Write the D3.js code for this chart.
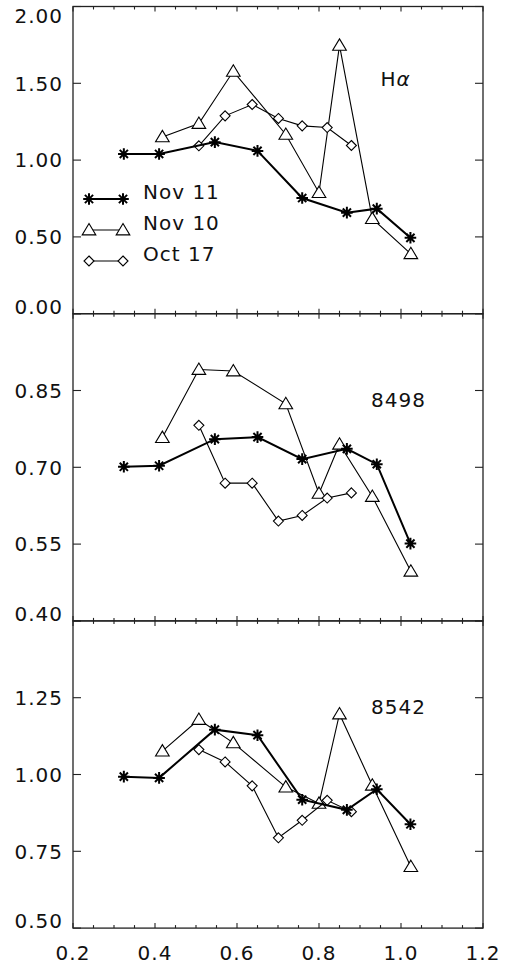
<!DOCTYPE html>
<html>
<head>
<meta charset="utf-8">
<script src="https://cdn.jsdelivr.net/npm/d3@7"></script>
<style>
  body { margin: 0; background: #fff; }
  text { font-family: "DejaVu Sans", sans-serif; font-size: 20px; letter-spacing: 1px; fill: #111; }
</style>
</head>
<body>
<svg id="chart" width="509" height="965"></svg>
<script>
// x values (shared by all three lines / panels)
var xNov11 = [0.324, 0.41, 0.546, 0.65, 0.759, 0.868, 0.941, 1.023];
var xNov10 = [0.418, 0.507, 0.591, 0.719, 0.80, 0.85, 0.93, 1.024];
var xOct17 = [0.507, 0.571, 0.637, 0.701, 0.759, 0.82, 0.879];

// H alpha
var haNov11 = [1.04, 1.04, 1.117, 1.06, 0.753, 0.658, 0.684, 0.494];
var haNov10 = [1.151, 1.238, 1.578, 1.167, 0.788, 1.747, 0.619, 0.39];
var haOct17 = [1.093, 1.288, 1.362, 1.271, 1.223, 1.212, 1.095];

// 8498
var c1Nov11 = [0.701, 0.703, 0.755, 0.759, 0.716, 0.736, 0.706, 0.551];
var c1Nov10 = [0.758, 0.891, 0.888, 0.824, 0.649, 0.745, 0.643, 0.497];
var c1Oct17 = [0.782, 0.669, 0.669, 0.595, 0.606, 0.640, 0.650];

// 8542
var c2Nov11 = [0.993, 0.989, 1.146, 1.128, 0.918, 0.885, 0.952, 0.838];
var c2Nov10 = [1.076, 1.179, 1.103, 0.959, 0.906, 1.197, 0.965, 0.70];
var c2Oct17 = [1.081, 1.041, 0.963, 0.794, 0.851, 0.916, 0.879];

var seriesNames = ["Nov 11", "Nov 10", "Oct 17"];
var xTicks = [0.2, 0.4, 0.6, 0.8, 1.0, 1.2];

var panels = [
  {label: "H", greek: "α", domain: [0, 2], ticks: [0, 0.5, 1, 1.5, 2], labelTop: true,
   data: [haNov11, haNov10, haOct17], legend: true},
  {label: "8498", domain: [0.4, 1.0], ticks: [0.4, 0.55, 0.7, 0.85, 1.0], labelTop: false,
   data: [c1Nov11, c1Nov10, c1Oct17]},
  {label: "8542", domain: [0.5, 1.5], ticks: [0.5, 0.75, 1.0, 1.25, 1.5], labelTop: false,
   data: [c2Nov11, c2Nov10, c2Oct17]}
];
var xs = [xNov11, xNov10, xOct17];

var svg = d3.select("#chart");
var left = 73, right = 483, top0 = 6.5, panelH = 307.2;

var x = d3.scaleLinear().domain([0.2, 1.2]).range([left, right]);

// marker path builders
function asterisk(r) {
  var d = "";
  for (var k = 0; k < 4; k++) {
    var a = k * Math.PI / 4;
    var dx = r * Math.cos(a), dy = r * Math.sin(a);
    d += "M" + (-dx) + "," + (-dy) + "L" + dx + "," + dy;
  }
  return d;
}
function triangle(r) {
  return "M0," + (-r) + "L" + (r * 1.05) + "," + (r * 0.75) + "L" + (-r * 1.05) + "," + (r * 0.75) + "Z";
}
function diamond(r) {
  return "M0," + (-r) + "L" + r + ",0L0," + r + "L" + (-r) + ",0Z";
}
var markers = [
  {d: asterisk(5.8), fill: "none", sw: 2, lw: 2},
  {d: triangle(6.5), fill: "#fff", sw: 1.1, lw: 1.1},
  {d: diamond(5), fill: "#fff", sw: 1.1, lw: 1.1}
];

var minorX = d3.range(0.2, 1.2001, 0.05);

panels.forEach(function(p, pi) {
  var top = top0 + pi * panelH, bottom = top + panelH;
  var y = d3.scaleLinear().domain(p.domain).range([bottom, top]);
  var g = svg.append("g");

  // frame
  g.append("rect").attr("x", left).attr("y", top).attr("width", right - left).attr("height", panelH)
    .attr("fill", "none").attr("stroke", "#222").attr("stroke-width", 1.3);

  // x ticks, top and bottom, inward
  minorX.forEach(function(v) {
    var major = xTicks.some(function(t) { return Math.abs(t - v) < 1e-6; });
    var len = major ? 5 : 3;
    g.append("line").attr("x1", x(v)).attr("x2", x(v)).attr("y1", bottom).attr("y2", bottom - len)
      .attr("stroke", "#222").attr("stroke-width", 1.1);
    g.append("line").attr("x1", x(v)).attr("x2", x(v)).attr("y1", top).attr("y2", top + len)
      .attr("stroke", "#222").attr("stroke-width", 1.1);
  });

  // y ticks, left and right, inward
  p.ticks.forEach(function(v, i) {
    g.append("line").attr("x1", left).attr("x2", left + 8).attr("y1", y(v)).attr("y2", y(v))
      .attr("stroke", "#222").attr("stroke-width", 1.1);
    g.append("line").attr("x1", right).attr("x2", right - 8).attr("y1", y(v)).attr("y2", y(v))
      .attr("stroke", "#222").attr("stroke-width", 1.1);
    if (i === p.ticks.length - 1 && !p.labelTop) return;
    var ty = Math.max(top + 9, Math.min(bottom - 7, y(v)));
    g.append("text").attr("x", 63).attr("y", ty).attr("dy", "0.36em").attr("text-anchor", "end")
      .text(d3.format(".2f")(v));
  });

  // series
  var line = d3.line().x(function(d) { return x(d[0]); }).y(function(d) { return y(d[1]); });
  [1, 2, 0].forEach(function(si) {
    var pts = xs[si].map(function(xv, k) { return [xv, p.data[si][k]]; });
    var m = markers[si];
    g.append("path").attr("d", line(pts)).attr("fill", "none").attr("stroke", "#000")
      .attr("stroke-width", m.lw);
    g.selectAll(null).data(pts).enter().append("path")
      .attr("transform", function(d) { return "translate(" + x(d[0]) + "," + y(d[1]) + ")"; })
      .attr("d", m.d).attr("fill", m.fill).attr("stroke", "#000").attr("stroke-width", m.sw);
  });

  // panel label
  var lab = g.append("text").attr("x", p.greek ? x(0.95) : x(0.927)).attr("y", top + (p.greek ? 79 : 93));
  lab.append("tspan").text(p.label);
  if (p.greek) lab.append("tspan").attr("font-style", "italic").text(p.greek);

  // legend
  if (p.legend) {
    seriesNames.forEach(function(name, si) {
      var ly = 199 + si * 31;
      var m = markers[si];
      g.append("line").attr("x1", 89).attr("x2", 123).attr("y1", ly).attr("y2", ly)
        .attr("stroke", "#000").attr("stroke-width", m.lw);
      [89, 123].forEach(function(mx) {
        g.append("path").attr("transform", "translate(" + mx + "," + ly + ")")
          .attr("d", m.d).attr("fill", m.fill).attr("stroke", "#000").attr("stroke-width", m.sw);
      });
      g.append("text").attr("x", 143).attr("y", ly).text(name);
    });
  }

  // bottom x labels
  if (pi === panels.length - 1) {
    xTicks.forEach(function(v) {
      g.append("text").attr("x", x(v)).attr("y", 960).attr("text-anchor", "middle")
        .text(d3.format(".1f")(v));
    });
  }
});
</script>
</body>
</html>
